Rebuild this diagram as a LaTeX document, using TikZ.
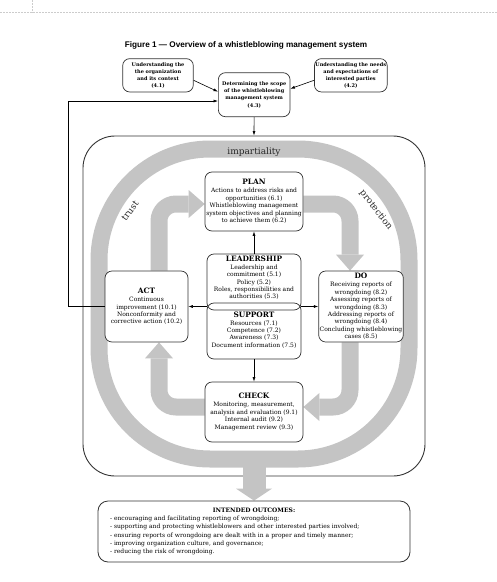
\documentclass[tikz,border=0pt]{standalone}
\usepackage{fontspec}
\setmainfont{DejaVu Serif}
\setsansfont{Liberation Sans}
\usetikzlibrary{arrows.meta,backgrounds}
\definecolor{ringgray}{RGB}{196,196,196}
\newcommand{\boxfont}{\fontsize{6}{7.4}\selectfont}
\newcommand{\topfont}{\fontsize{5}{7.2}\selectfont\bfseries}
\newcommand{\headfont}{\fontsize{7.4}{8.4}\selectfont\bfseries}
\newcommand{\ringfont}{\fontsize{9}{10}\selectfont}
\tikzset{
  conn/.style={line width=0.6pt, -{Latex[length=4.5pt,width=3pt]}},
  procbox/.style={draw=black!80, line width=0.7pt, rounded corners=7pt, fill=white, align=center, inner sep=1pt, font=\boxfont},
  topbox/.style={procbox, font=\topfont},
  band/.style={ringgray, line width=17pt, rounded corners=17pt, -{Triangle[length=16pt,width=28pt,line width=0pt]}},
  ringlabel/.style={font=\ringfont, text=black!85},
  pagemark/.style={black!20, very thin, dash pattern=on 2pt off 1pt},
}

\begin{document}
\begin{tikzpicture}[x=1pt,y=-1pt]
\useasboundingbox (0,0) rectangle (497,582);
\draw[pagemark] (0,12.3) -- (497,12.3);
\draw[pagemark] (32.3,0) -- (32.3,12.3);
\node[font=\sffamily\bfseries\fontsize{8.2}{9}\selectfont] (title) at (246,45) {Figure 1 — Overview of a whistleblowing management system};

\node[topbox, minimum width=70.6pt, minimum height=33.3pt] (context) at (158,75.3) {Understanding the\\the organization\\and its context\\(4.1)};
\node[topbox, minimum width=71.7pt, minimum height=44pt] (scope) at (254.2,94.7) {Determining the scope\\of the whistleblowing\\management system\\(4.3)};
\node[topbox, minimum width=71.7pt, minimum height=33.3pt] (needs) at (350.8,75.3) {Understanding the needs\\and expectations of\\interested parties\\(4.2)};

\node[procbox, minimum width=98pt, minimum height=59pt] (plan) at (254,201.5) {{\headfont PLAN}\\[0.6pt]Actions to address risks and\\opportunities (6.1)\\Whistleblowing management\\system objectives and planning\\to achieve them (6.2)};
\node[procbox, fill=none, minimum width=94pt, minimum height=56pt] (lead) at (254,282) {{\headfont LEADERSHIP}\\[0.6pt]Leadership and\\commitment (5.1)\\Policy (5.2)\\Roles, responsibilities and\\authorities (5.3)\\[2pt]};
\node[procbox, fill=none, minimum width=94pt, minimum height=56pt] (supp) at (254,331) {\\[-4pt]{\headfont SUPPORT}\\[0.6pt]Resources (7.1)\\Competence (7.2)\\Awareness (7.3)\\Document information (7.5)};
\node[procbox, minimum width=83pt, minimum height=71pt] (act) at (146.5,306.5) {{\headfont ACT}\\[0.6pt]Continuous\\improvement (10.1)\\Nonconformity and\\corrective action (10.2)};
\node[procbox, minimum width=84pt, minimum height=71pt] (do) at (361,306.5) {{\headfont DO}\\[0.6pt]Receiving reports of\\wrongdoing (8.2)\\Assessing reports of\\wrongdoing (8.3)\\Addressing reports of\\wrongdoing (8.4)\\Concluding whistleblowing\\cases (8.5)};
\node[procbox, minimum width=98pt, minimum height=60pt] (check) at (254,412) {{\headfont CHECK}\\[0.6pt]Monitoring, measurement,\\analysis and evaluation (9.1)\\Internal audit (9.2)\\Management review (9.3)};

\node[draw=black!80, line width=0.8pt, rounded corners=10pt, minimum width=312pt, minimum height=61pt, text width=288pt, align=left, font=\fontsize{6}{8.3}\selectfont] (outcomes) at (254,531.5) {\makebox[288pt]{\textbf{INTENDED OUTCOMES:}}\\- encouraging and facilitating reporting of wrongdoing;\\- supporting and protecting whistleblowers and other interested parties involved;\\- ensuring reports of wrongdoing are dealt with in a proper and timely manner;\\- improving organization culture, and governance;\\- reducing the risk of wrongdoing.};

\coordinate (cnw) at (159,204);
\coordinate (cne) at (350,204);
\coordinate (cse) at (350,407);
\coordinate (csw) at (159,407);
\coordinate (fbturn) at (68,101);

\begin{scope}[on background layer]
\node[draw=black!80, line width=0.9pt, rounded corners=32pt, minimum width=342pt, minimum height=340pt, inner sep=0pt] (frame) at (254,306) {};
\draw[ringgray, line width=17pt, rounded corners=111pt] (99,149) rectangle (409,459);
\draw[ringgray, line width=23pt, -{Triangle[length=12pt,width=36pt,line width=0pt]}] (254,459) -- (outcomes.north);
\draw[band] (act.north -| cnw) -- (cnw) -- (plan.west |- cnw);
\draw[band] (plan.east |- cne) -- (cne) -- (do.north -| cne);
\draw[band] (do.south -| cse) -- (cse) -- (check.east |- cse);
\draw[band] (check.west |- csw) -- (csw) -- (act.south -| csw);
\end{scope}

\node[ringlabel] (imp) at (254,152) {impartiality};
\node[ringlabel, rotate=53] (trust) at (130,211) {trust};
\node[ringlabel, rotate=-52] (prot) at (376,210) {protection};

\draw[conn] ([yshift=-5pt]context.east) -- ([yshift=3pt]scope.west);
\draw[conn] ([yshift=-5pt]needs.west) -- ([yshift=6pt]scope.east);
\draw[conn] (scope) -- (frame.north);
\draw[conn] (act.west) -| (fbturn) -- (fbturn -| scope.west);
\draw[conn] (lead) -- (plan);
\draw[conn] (supp) -- (check);
\draw[conn] (lead.west |- act.east) -- (act.east);
\draw[conn] (lead.east |- do.west) -- (do.west);
\end{tikzpicture}
\end{document}
